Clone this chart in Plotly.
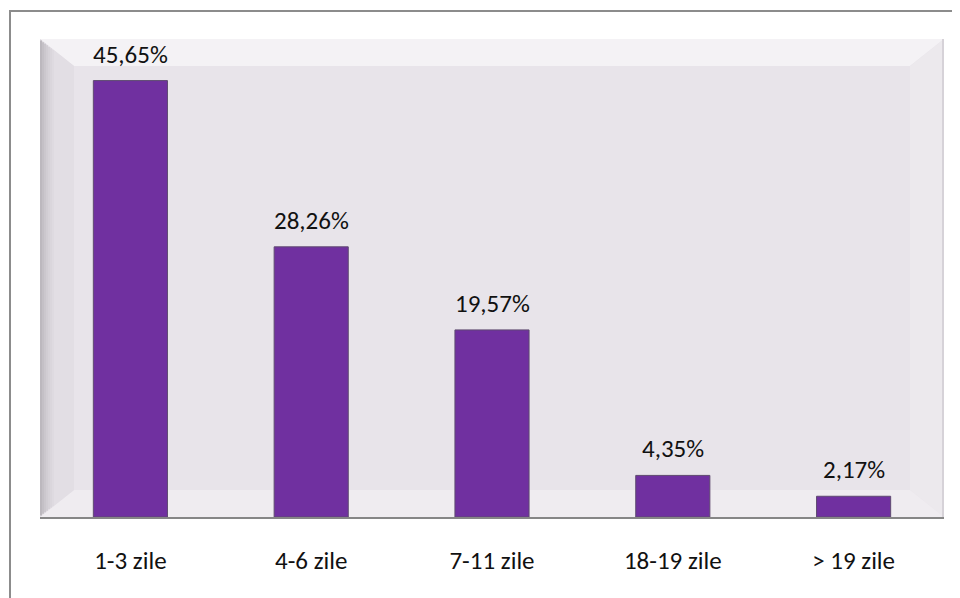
import plotly.graph_objects as go

categories = ["1-3 zile", "4-6 zile", "7-11 zile", "18-19 zile", "> 19 zile"]
values = [45.65, 28.26, 19.57, 4.35, 2.17]

FONT = "Carlito, Lato, 'Open Sans', sans-serif"
# page body has an 8px offset; compensate so the plot lands at x 40..944, y 39..517
W, H = 952, 590
L, R, T, B = 32, 16, 31, 81
pw, ph = W - L - R, H - T - B

fig = go.Figure()
fig.add_trace(go.Bar(
    x=categories, y=values, width=0.41,
    marker=dict(color="#7030A0", line=dict(color="#5E4A70", width=1)),
    hoverinfo="skip",
))

for c, v in zip(categories, values):
    fig.add_annotation(x=c, y=v, text=f"{v:.2f}%".replace(".", ","),
                       showarrow=False, yanchor="bottom", yshift=9,
                       font=dict(family=FONT, size=25, color="#111111"))

bx = 34 / pw
by = 27 / ph
shapes = [
    dict(type="path", xref="paper", yref="paper",
         path=f"M0,1 L1,1 L{1-bx},{1-by} L{bx},{1-by} Z",
         fillcolor="#F4F2F5", line=dict(width=0), layer="below"),
    dict(type="path", xref="paper", yref="paper",
         path=f"M1,0 L1,1 L{1-bx},{1-by} L{1-bx},{by} Z",
         fillcolor="#ECE9ED", line=dict(width=0), layer="below"),
    dict(type="path", xref="paper", yref="paper",
         path=f"M0,0 L1,0 L{1-bx},{by} L{bx},{by} Z",
         fillcolor="#EFECF0", line=dict(width=0), layer="below"),
    dict(type="path", xref="paper", yref="paper",
         path=f"M0,0 L0,1 L{bx},{1-by} L{bx},{by} Z",
         fillcolor="#E2DEE4", line=dict(width=0), layer="below"),
]
left_cols = ["#BCB8BE", "#C4C0C6", "#CBC7CD", "#D1CDD3", "#D6D2D8", "#DAD6DC", "#DEDAE0"]
for i, col in enumerate(left_cols):
    x0 = i * 2 / pw
    x1 = (i + 1) * 2 / pw
    shapes.append(dict(type="rect", xref="paper", yref="paper",
                       x0=x0, x1=x1, y0=(x1 / bx) * by, y1=1 - (x1 / bx) * by,
                       fillcolor=col, line=dict(width=0), layer="below"))
shapes.append(dict(type="rect", xref="paper", yref="paper",
                   x0=1 - 2 / pw, x1=1, y0=0, y1=1,
                   fillcolor="#D6D2D8", line=dict(width=0), layer="below"))
shapes.append(dict(type="rect", xref="paper", yref="paper",
                   x0=-30 / pw, x1=1 + 60 / pw, y0=-120 / ph, y1=1 + 28 / ph,
                   line=dict(color="#8C8C8C", width=2), fillcolor="rgba(0,0,0,0)",
                   layer="below"))

fig.update_layout(
    width=W, height=H,
    margin=dict(l=L, r=R, t=T, b=B),
    paper_bgcolor="white",
    plot_bgcolor="#E8E4EA",
    showlegend=False,
    shapes=shapes,
    font=dict(family=FONT, size=25, color="#111111"),
)
fig.update_xaxes(showgrid=False, zeroline=False, showline=True,
                 linecolor="#868686", linewidth=2, ticks="",
                 ticklabelstandoff=20,
                 tickfont=dict(family=FONT, size=25, color="#111111"))
fig.update_yaxes(range=[0, 50], showgrid=False, zeroline=False,
                 showticklabels=False, showline=False, ticks="")

fig.write_html("out.html")
